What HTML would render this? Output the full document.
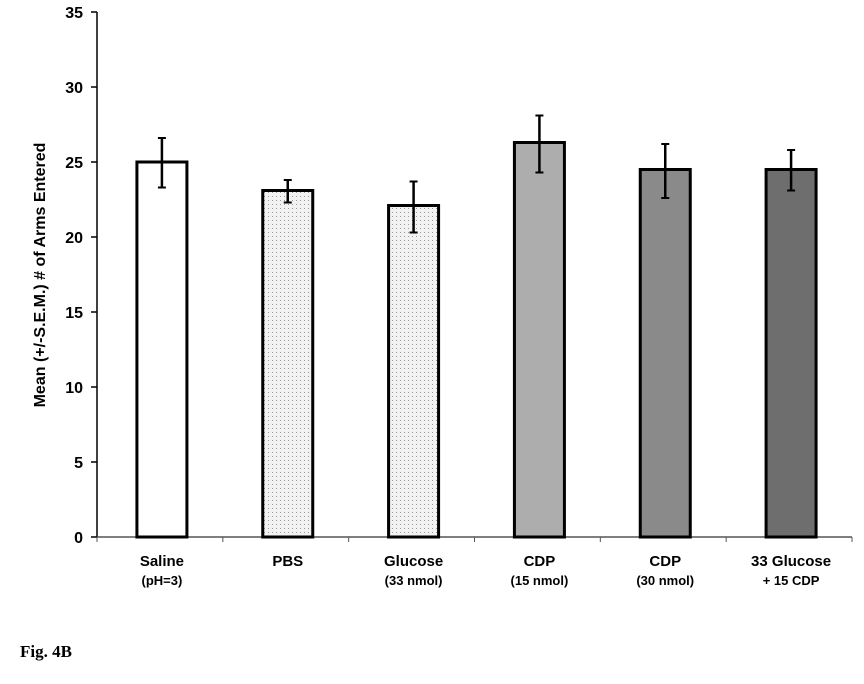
<!DOCTYPE html>
<html><head><meta charset="utf-8"><style>
body{margin:0;background:#fff;width:864px;height:679px;overflow:hidden}
svg text{font-family:"Liberation Sans",Arial,sans-serif;font-weight:bold}
</style></head><body>
<svg id="chart" width="864" height="679">
<defs>
<pattern id="dots" width="4" height="4" patternUnits="userSpaceOnUse"><rect width="4" height="4" fill="#f2f2f2"/><rect width="1" height="1" fill="#999"/></pattern>
</defs>
<g id="ax"></g><g id="bars"></g>
<text x="20" y="657" font-family="Liberation Serif" style="font-family:'Liberation Serif',serif;font-weight:bold" font-size="17">Fig. 4B</text>
<text transform="translate(45,275) rotate(-90)" text-anchor="middle" font-size="16">Mean (+/-S.E.M.) # of Arms Entered</text>
</svg>
<script>
const categories=["Saline","PBS","Glucose","CDP","CDP","33 Glucose"];
const sublabels=["(pH=3)","","(33 nmol)","(15 nmol)","(30 nmol)","+ 15 CDP"];
const means=[25,23.1,22.1,26.3,24.5,24.5];
const errLow=[23.3,22.3,20.3,24.3,22.6,23.1];
const errHigh=[26.6,23.8,23.7,28.1,26.2,25.8];
const fills=["#ffffff","url(#dots)","url(#dots)","#adadad","#8a8a8a","#6e6e6e"];
const yTicks=[0,5,10,15,20,25,30,35];
const NS="http://www.w3.org/2000/svg";
const x0=97,x1=852,y0=537,pxPer=15;
const bw=(x1-x0)/categories.length;
const y=v=>y0-v*pxPer;
const xc=i=>x0+2+bw*(i+0.5);
function mk(t,a,p){const e=document.createElementNS(NS,t);for(const k in a)e.setAttribute(k,a[k]);p.appendChild(e);return e;}
const ax=document.getElementById('ax'),bars=document.getElementById('bars');
const yl=mk('line',{x1:x0,x2:x0,y1:y(35),y2:y0,stroke:'#000','stroke-width':1.5},ax);


const xl=mk('line',{x1:x0,x2:x1,y1:y0,y2:y0,stroke:'#555','stroke-width':1.5},ax);


yTicks.forEach(t=>{
 mk('line',{x1:x0-6,x2:x0,y1:y(t),y2:y(t),stroke:'#000','stroke-width':1.5},ax);
 const tx=mk('text',{x:x0-14,y:y(t)+6,'text-anchor':'end','font-size':16},ax);tx.textContent=t;
 
 
});
for(let i=0;i<=categories.length;i++){mk('line',{x1:x0+bw*i,x2:x0+bw*i,y1:y0,y2:y0+5,stroke:'#555','stroke-width':1},ax);}
categories.forEach((c,i)=>{
 const g=mk('g',{},bars);
 
 
 mk('rect',{x:xc(i)-25,y:y(means[i]),width:50,height:y0-y(means[i]),fill:fills[i],stroke:'#000','stroke-width':3},g);
 mk('line',{x1:xc(i),x2:xc(i),y1:y(errLow[i]),y2:y(errHigh[i]),stroke:'#000','stroke-width':2.5},g);
 mk('line',{x1:xc(i)-4,x2:xc(i)+4,y1:y(errLow[i]),y2:y(errLow[i]),stroke:'#000','stroke-width':2},g);
 mk('line',{x1:xc(i)-4,x2:xc(i)+4,y1:y(errHigh[i]),y2:y(errHigh[i]),stroke:'#000','stroke-width':2},g);
 const t=mk('text',{x:xc(i),y:566,'text-anchor':'middle','font-size':15},ax);t.textContent=c;
 
 
 if(sublabels[i]){const s=mk('text',{x:xc(i),y:585,'text-anchor':'middle','font-size':13},ax);s.textContent=sublabels[i];
 
 }
});
</script>
</body></html>
